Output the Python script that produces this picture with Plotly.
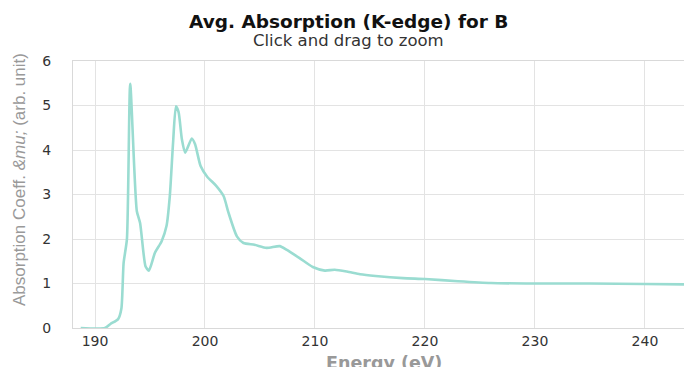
import plotly.graph_objects as go

energy = [188.7, 190.9, 191.4, 192.1, 192.4, 192.6, 192.9, 193.2, 193.8, 194.1,
          194.6, 194.9, 195.45, 196.06, 196.5, 196.8, 197.1, 197.36, 197.6, 197.9,
          198.2, 198.8, 199.1, 199.6, 200.2, 201.0, 201.7, 202.1, 202.9, 203.5,
          204.5, 205.6, 206.8, 207.4, 208.6, 209.8, 210.9, 211.8, 212.9, 214.1,
          215.5, 218.0, 220.0, 223.0, 226.0, 230.0, 235.0, 240.0, 243.6]
mu = [0.0, 0.0, 0.09, 0.2, 0.44, 1.46, 1.99, 5.49, 2.63, 2.36,
      1.38, 1.29, 1.69, 1.95, 2.29, 2.96, 4.17, 4.98, 4.85, 4.24,
      3.94, 4.26, 4.13, 3.64, 3.40, 3.20, 2.96, 2.62, 2.06, 1.91,
      1.87, 1.80, 1.84, 1.76, 1.57, 1.37, 1.29, 1.31, 1.27, 1.21,
      1.17, 1.12, 1.10, 1.05, 1.01, 1.0, 1.0, 0.99, 0.98]

x_ticks = [190, 200, 210, 220, 230, 240]
y_ticks = [0, 1, 2, 3, 4, 5, 6]

title_text = "<b>Avg. Absorption (K-edge) for B</b>"
subtitle_text = "Click and drag to zoom"
x_title = "<b>Energy (eV)</b>"
y_title = "Absorption Coeff. <i>&amp;mu;</i> (arb. unit)"

W, H = 684, 367
ML, MR, MT, MB = 73, 0, 61, 39
PW, PH = W - ML - MR, H - MT - MB


def px_x(px):
    return (px - ML) / PW


def px_y(py):
    return (H - MB - py) / PH


wide = "DejaVu Sans, Verdana, sans-serif"
narrow = "Liberation Sans, Arial, sans-serif"

fig = go.Figure()
fig.add_trace(go.Scatter(
    x=energy, y=mu, mode="lines",
    line=dict(color="#9adcd1", width=2.6, shape="spline", smoothing=0.6),
    hoverinfo="x+y", showlegend=False,
))

fig.update_layout(
    width=W, height=H,
    margin=dict(l=ML, r=MR, t=MT, b=MB, autoexpand=False),
    paper_bgcolor="white", plot_bgcolor="white",
    font=dict(family=wide, color="#333333", size=13),
    annotations=[
        dict(text=title_text, x=px_x(348), y=px_y(21), xref="paper", yref="paper",
             xanchor="center", yanchor="middle", showarrow=False,
             font=dict(size=18.5, color="#111111", family=wide)),
        dict(text=subtitle_text, x=px_x(348), y=px_y(40), xref="paper", yref="paper",
             xanchor="center", yanchor="middle", showarrow=False,
             font=dict(size=16.5, color="#333333", family=wide)),
        dict(text=x_title, x=px_x(384), y=px_y(351), xref="paper", yref="paper",
             xanchor="center", yanchor="top", showarrow=False,
             font=dict(size=17.5, color="#999999", family=wide)),
        dict(text=y_title, x=px_x(19), y=px_y(180), xref="paper", yref="paper",
             xanchor="center", yanchor="middle", showarrow=False, textangle=-90,
             font=dict(size=17, color="#999999", family=narrow)),
    ],
    xaxis=dict(
        range=[188.0, 243.55], tickvals=x_ticks, ticktext=[str(v) for v in x_ticks],
        showgrid=True, gridcolor="#e3e3e3", gridwidth=1,
        showline=True, linecolor="#d9d9d9", linewidth=1, mirror=True,
        zeroline=False, ticks="", automargin=False,
        tickfont=dict(size=14, color="#333333", family=wide),
    ),
    yaxis=dict(
        range=[0, 6], tickvals=y_ticks, ticktext=[str(v) for v in y_ticks],
        showgrid=True, gridcolor="#e3e3e3", gridwidth=1,
        showline=True, linecolor="#d9d9d9", linewidth=1, mirror=True,
        zeroline=False, ticks="outside", ticklen=18, tickcolor="rgba(0,0,0,0)",
        automargin=False,
        tickfont=dict(size=14, color="#333333", family=wide),
    ),
)

fig.write_html(
    "out.html",
    config={"displayModeBar": False},
    post_script="document.body.style.margin='0';document.body.style.overflow='hidden';",
)
